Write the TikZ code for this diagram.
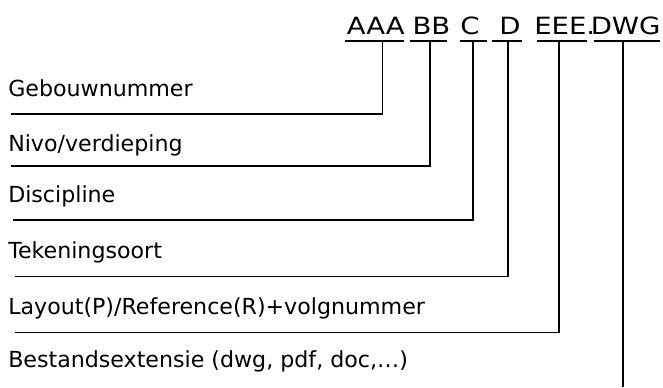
\documentclass[tikz,border=0pt]{standalone}
\usepackage{fontspec}
\setmainfont{DejaVu Sans}
\begin{document}
\begin{tikzpicture}[x=0.75pt,y=-0.75pt,
  code/.style={inner sep=0pt,anchor=base west,font=\fontsize{17.8}{20}\selectfont},
  lbl/.style={inner sep=0pt,anchor=base west,font=\fontsize{16.6}{19}\selectfont},
  wire/.style={line width=1.4pt,black}]
\useasboundingbox (0,0) rectangle (663,387);
% top code text
\node[code] (tA) at (346.5,34) {\scalebox{1.16}[1]{AAA}};
\node[code] (tB) at (412.3,34) {\scalebox{1.16}[1]{BB}};
\node[code] (tC) at (460.2,34) {\scalebox{1.16}[1]{C}};
\node[code] (tD) at (499,34) {\scalebox{1.16}[1]{D}};
\node[code] (tE) at (534,34) {\scalebox{1.16}[1]{EEE.}};
\node[code] (tF) at (590.5,34) {\scalebox{1.16}[1]{DWG}};
% underlines
\coordinate (uA1) at (345,41); \coordinate (uA2) at (404,41); \coordinate (vA) at (382.5,41);
\coordinate (uB1) at (410,41); \coordinate (uB2) at (447,41); \coordinate (vB) at (430,41);
\coordinate (uC1) at (460,41); \coordinate (uC2) at (487,41); \coordinate (vC) at (473,41);
\coordinate (uD1) at (492,41); \coordinate (uD2) at (522,41); \coordinate (vD) at (508,41);
\coordinate (uE1) at (537,41); \coordinate (uE2) at (587,41); \coordinate (vE) at (559,41);
\coordinate (uF1) at (594,41); \coordinate (uF2) at (660,41); \coordinate (vF) at (623,41);
\foreach \k in {A,B,C,D,E,F} {\draw[wire] (u\k1) -- (u\k2);}
% labels
\node[lbl] (l1) at (8,96.7) {Gebouwnummer};
\node[lbl] (l2) at (8,151.7) {Nivo/verdieping};
\node[lbl] (l3) at (8,202.5) {Discipline};
\node[lbl] (l4) at (8,258) {Tekeningsoort};
\node[lbl] (l5) at (8,314.3) {Layout(P)/Reference(R)+volgnummer};
\node[lbl] (l6) at (8,367) {Bestandsextensie (dwg, pdf, doc,\dots)};
% label lines
\coordinate (s1) at (11,114.3);
\coordinate (s2) at (11,165.7);
\coordinate (s3) at (13,219.7);
\coordinate (s4) at (15,276.5);
\coordinate (s5) at (15,332.5);
\coordinate (e6) at (623,387);
\draw[wire] (s1) -| (vA);
\draw[wire] (s2) -| (vB);
\draw[wire] (s3) -| (vC);
\draw[wire] (s4) -| (vD);
\draw[wire] (s5) -| (vE);
\draw[wire] (vF) -- (e6);
\end{tikzpicture}
\end{document}
